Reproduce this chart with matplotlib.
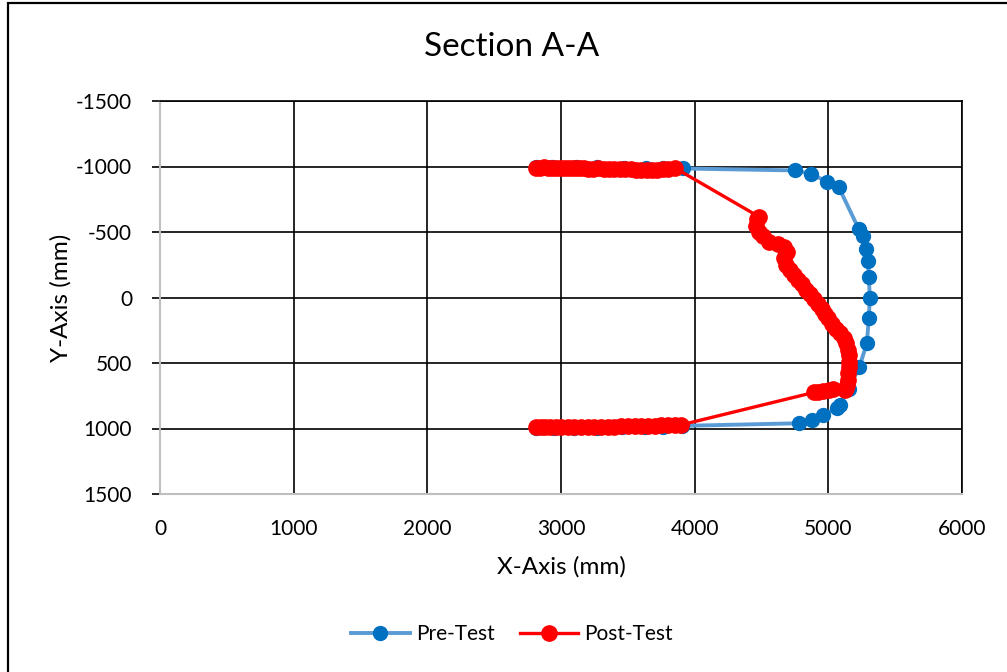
import matplotlib.pyplot as plt
from matplotlib.patches import Rectangle

plt.rcParams['font.family'] = ['Lato', 'DejaVu Sans']
plt.rcParams['axes.unicode_minus'] = False

# Pre-Test survey (mm)
pre_x = [2816, 2936, 3109, 3273, 3468, 3633, 3760, 3910,
         4749, 4869, 4989, 5079, 5228, 5258, 5281, 5296, 5303, 5310,
         5303, 5288, 5232, 5154, 5085, 5065, 4959, 4876, 4779,
         3905, 3760, 3630, 3460, 3270, 3100, 2950, 2816]
pre_y = [-995, -998, -996, -995, -990, -988, -985, -985,
         -970, -944, -885, -840, -522, -466, -370, -275, -160, 0,
         160, 350, 530, 695, 820, 845, 897, 932, 960,
         980, 985, 988, 990, 993, 995, 995, 995]

# Post-Test survey (mm)
post_x = [2816, 2840, 2870, 2900, 2930, 2960, 2990, 3020, 3050, 3080,
          3110, 3140, 3170, 3200, 3240, 3280, 3320, 3360, 3400, 3440,
          3480, 3520, 3560, 3600, 3640, 3680, 3720, 3760, 3800, 3850,
          4479, 4470, 4457, 4480, 4509, 4554, 4620, 4667, 4690, 4665,
          4680, 4710, 4740, 4770, 4800, 4830, 4860, 4890, 4920, 4950,
          4975, 5000, 5030, 5060, 5090, 5115, 5135, 5150, 5155, 5155,
          5152, 5150, 5146, 5140, 5131, 5124,
          5034, 5004, 4960, 4920, 4891,
          3900, 3850, 3800, 3750, 3700, 3650, 3600, 3550, 3500, 3450,
          3400, 3350, 3300, 3250, 3200, 3150, 3100, 3050, 3000, 2960,
          2920, 2880, 2850, 2816]
post_y = [-992, -990, -993, -991, -989, -990, -988, -990, -987, -986,
          -988, -985, -986, -984, -983, -985, -982, -980, -981, -979,
          -978, -980, -976, -975, -977, -974, -976, -978, -984, -990,
          -618, -600, -542, -500, -466, -427, -410, -389, -344, -300,
          -250, -210, -170, -135, -100, -60, -25, 15, 50, 90,
          125, 160, 200, 240, 270, 310, 350, 397, 440, 490,
          527, 580, 626, 665, 690, 703,
          700, 705, 710, 718, 725,
          972, 974, 975, 977, 978, 980, 981, 982, 983, 984,
          985, 986, 986, 987, 988, 988, 989, 990, 990, 991,
          991, 992, 992, 992]

x_ticks = [0, 1000, 2000, 3000, 4000, 5000, 6000]
y_ticks = [-1500, -1000, -500, 0, 500, 1000, 1500]

fig = plt.figure(figsize=(10.07, 6.72), dpi=100)
ax = fig.add_axes([160 / 1007, 1 - 494 / 672, 802 / 1007, 393 / 672])

# outer chart frame
fig.patches.append(Rectangle((8 / 1007, -0.1), 1.2, 1 - 3 / 672 + 0.1,
                             transform=fig.transFigure, fill=False,
                             edgecolor='black', linewidth=1.6))

ax.plot(pre_x, pre_y, color='#5B9BD5', linewidth=2.8, marker='o',
        markersize=10, markerfacecolor='#0070C0', markeredgecolor='#0070C0',
        label='Pre-Test', zorder=3)
ax.plot(post_x, post_y, color='#FF0000', linewidth=2.4, marker='o',
        markersize=11, markerfacecolor='#FF0000', markeredgecolor='#FF0000',
        label='Post-Test', zorder=4)

ax.set_xlim(0, 6000)
ax.set_ylim(1500, -1500)
ax.set_xticks(x_ticks)
ax.set_yticks(y_ticks)
ax.grid(True, color='black', linewidth=1.2)
ax.set_axisbelow(True)

for s in ['top', 'right']:
    ax.spines[s].set_color('black')
    ax.spines[s].set_linewidth(1.2)
for s in ['left', 'bottom']:
    ax.spines[s].set_color('#BFBFBF')
    ax.spines[s].set_linewidth(1.5)

ax.tick_params(axis='y', direction='out', length=6, width=1.2, color='black',
               labelsize=15, pad=14, labelcolor='black')
ax.tick_params(axis='x', length=0, labelsize=15, pad=18, labelcolor='black')

ax.set_xlabel('X-Axis (mm)', fontsize=17.5, labelpad=12)
ax.set_ylabel('Y-Axis (mm)', fontsize=17.5, labelpad=3)
fig.text(512 / 1007, 1 - 47 / 672, 'Section A-A', fontsize=24,
         ha='center', va='center')

fig.legend(loc='center', bbox_to_anchor=(512 / 1007, 1 - 634 / 672), ncol=2,
           frameon=False, fontsize=15, handlelength=2.8, columnspacing=1.2,
           handletextpad=0.3)

fig.savefig('out.png', dpi=100)
